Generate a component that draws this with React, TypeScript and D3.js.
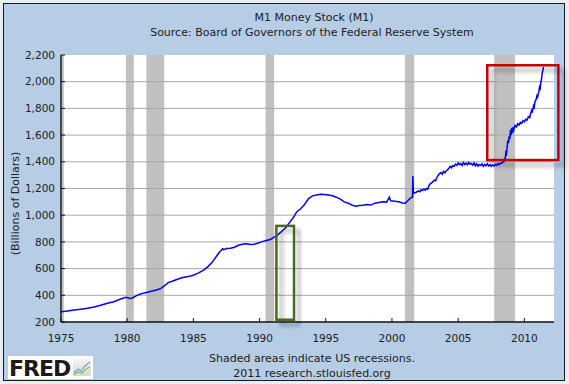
import React from "react";
import * as d3 from "d3";

// M1 money stock, billions of dollars
const m1Series: [number, number][] = [
  [1975.0, 276], [1975.5, 283], [1976.0, 290], [1976.5, 296], [1977.0, 303],
  [1977.5, 313], [1978.0, 326], [1978.5, 340], [1979.0, 352], [1979.5, 372],
  [1979.9, 386], [1980.2, 376], [1980.4, 380], [1980.7, 398], [1981.0, 410],
  [1981.3, 418], [1981.6, 425], [1981.9, 432], [1982.2, 440], [1982.5, 449],
  [1982.8, 470], [1983.1, 495], [1983.4, 505], [1983.8, 520], [1984.2, 533],
  [1984.6, 540], [1985.0, 550], [1985.4, 568], [1985.8, 590], [1986.1, 615],
  [1986.4, 645], [1986.8, 700], [1987.0, 728], [1987.1, 735], [1987.2, 748],
  [1987.3, 742], [1987.5, 750], [1987.8, 752], [1988.1, 760], [1988.4, 775],
  [1988.7, 782], [1989.0, 786], [1989.3, 780], [1989.6, 783], [1989.9, 792],
  [1990.2, 802], [1990.5, 810], [1990.8, 818], [1991.1, 835], [1991.4, 855],
  [1991.7, 882], [1992.0, 910], [1992.3, 950], [1992.6, 990], [1992.8, 1024],
  [1993.1, 1048], [1993.4, 1080], [1993.7, 1125], [1994.0, 1145], [1994.3, 1152],
  [1994.6, 1157], [1994.9, 1155], [1995.2, 1152], [1995.5, 1145], [1995.8, 1135],
  [1996.1, 1120], [1996.4, 1100], [1996.7, 1090], [1997.0, 1075], [1997.3, 1068],
  [1997.5, 1072], [1997.8, 1074], [1998.1, 1080], [1998.4, 1076], [1998.7, 1090],
  [1999.0, 1095], [1999.3, 1100], [1999.6, 1098], [1999.8, 1135], [1999.9, 1108],
  [2000.2, 1105], [2000.5, 1100], [2000.8, 1092], [2001.0, 1090], [2001.2, 1110],
  [2001.4, 1128], [2001.55, 1135], [2001.58, 1293], [2001.62, 1165], [2001.8, 1170],
  [2002.0, 1182], [2002.1, 1176], [2002.2, 1190], [2002.3, 1184], [2002.4, 1196],
  [2002.5, 1188], [2002.6, 1200], [2002.7, 1194], [2002.8, 1224], [2002.9, 1236],
  [2003.0, 1242], [2003.1, 1252], [2003.2, 1262], [2003.3, 1258], [2003.4, 1284],
  [2003.5, 1300], [2003.6, 1312], [2003.7, 1320], [2003.8, 1306], [2003.9, 1328],
  [2004.0, 1318], [2004.1, 1332], [2004.2, 1340], [2004.3, 1352], [2004.4, 1365],
  [2004.5, 1355], [2004.6, 1372], [2004.7, 1366], [2004.8, 1382], [2004.9, 1374],
  [2005.0, 1392], [2005.1, 1378], [2005.2, 1386], [2005.3, 1372], [2005.4, 1394],
  [2005.5, 1380], [2005.6, 1390], [2005.7, 1377], [2005.8, 1395], [2005.9, 1382],
  [2006.0, 1388], [2006.1, 1375], [2006.2, 1392], [2006.3, 1370], [2006.4, 1386],
  [2006.5, 1368], [2006.6, 1380], [2006.7, 1372], [2006.8, 1384], [2006.9, 1366],
  [2007.0, 1380], [2007.1, 1370], [2007.2, 1386], [2007.3, 1368], [2007.4, 1378],
  [2007.5, 1366], [2007.6, 1376], [2007.7, 1368], [2007.8, 1380], [2007.9, 1372],
  [2008.0, 1386], [2008.1, 1378], [2008.2, 1392], [2008.3, 1388], [2008.4, 1404],
  [2008.45, 1400], [2008.5, 1420], [2008.55, 1415], [2008.6, 1470], [2008.65, 1460],
  [2008.7, 1510], [2008.75, 1560], [2008.8, 1540], [2008.85, 1590], [2008.9, 1570],
  [2008.95, 1640], [2009.0, 1600], [2009.05, 1655], [2009.1, 1615], [2009.15, 1660],
  [2009.2, 1640], [2009.3, 1672], [2009.4, 1662], [2009.5, 1686], [2009.6, 1676],
  [2009.7, 1695], [2009.8, 1688], [2009.9, 1708], [2010.0, 1700], [2010.1, 1718],
  [2010.2, 1712], [2010.3, 1738], [2010.4, 1730], [2010.5, 1770], [2010.55, 1785],
  [2010.6, 1776], [2010.7, 1820], [2010.75, 1810], [2010.8, 1850], [2010.9, 1870],
  [2010.95, 1895], [2011.0, 1885], [2011.1, 1930], [2011.15, 1960], [2011.2, 1950],
  [2011.25, 2000], [2011.3, 2020], [2011.35, 2065], [2011.4, 2085], [2011.45, 2110],
];

// US recessions (start, end) in decimal years
const recessions: [number, number][] = [
  [1979.9, 1980.5],
  [1981.45, 1982.8],
  [1990.45, 1991.1],
  [2000.98, 2001.68],
  [2007.72, 2009.3],
];

const yearTicks = [1975, 1980, 1985, 1990, 1995, 2000, 2005, 2010];
const valueTicks = [200, 400, 600, 800, 1000, 1200, 1400, 1600, 1800, 2000, 2200];

// highlight boxes: [x0, x1, y0, y1] in data units
const greenBox = [1991.27, 1992.6, 217, 920];
const redBox = [2007.2, 2012.57, 1413, 2123];

const W = 569;
const H = 384;
const plot = { left: 61, right: 554, top: 55, bottom: 322 };
const font = "'DejaVu Sans', Verdana, sans-serif";

export default function App() {
  const x = d3.scaleLinear().domain([1975, 2012.24]).range([plot.left, plot.right]);
  const y = d3.scaleLinear().domain([200, 2200]).range([plot.bottom, plot.top]);
  const line = d3
    .line<[number, number]>()
    .x((d) => x(d[0]))
    .y((d) => y(d[1]));
  const fmt = d3.format(",");

  const box = (b: number[], color: string) => (
    <rect
      x={x(b[0])}
      y={y(b[3])}
      width={x(b[1]) - x(b[0])}
      height={y(b[2]) - y(b[3])}
      fill="none"
      stroke={color}
      strokeWidth={2.5}
      filter="url(#shadow)"
    />
  );

  return (
    <svg
      width={W}
      height={H}
      style={{ position: "absolute", left: 0, top: 0 }}
      fontFamily={font}
    >
      <defs>
        <filter id="shadow" x="-20%" y="-20%" width="160%" height="160%">
          <feDropShadow dx={5} dy={5} stdDeviation={2} floodColor="#000" floodOpacity={0.35} />
        </filter>
        <clipPath id="plotClip">
          <rect x={plot.left} y={plot.top} width={plot.right - plot.left} height={plot.bottom - plot.top} />
        </clipPath>
        <linearGradient id="iconBg" x1="0" y1="0" x2="0" y2="1">
          <stop offset="0" stopColor="#f4f4f4" />
          <stop offset="1" stopColor="#d8d8d8" />
        </linearGradient>
      </defs>

      <rect width={W} height={H} fill="#e9eef4" />
      <rect x={3.5} y={3.5} width={561} height={377} fill="#b6cde5" stroke="#1a1a1a" strokeWidth={1} />

      {/* titles */}
      <text x={314} y={21} textAnchor="middle" fontSize={11} fill="#222">
        M1 Money Stock (M1)
      </text>
      <text x={312} y={36} textAnchor="middle" fontSize={11} fill="#222">
        Source: Board of Governors of the Federal Reserve System
      </text>

      {/* plot area */}
      <rect x={plot.left} y={plot.top} width={plot.right - plot.left} height={plot.bottom - plot.top} fill="#fff" />
      <rect x={plot.left + 1} y={plot.top} width={2} height={plot.bottom - plot.top} fill="#c8c8c8" />

      {recessions.map(([a, b], i) => (
        <rect key={i} x={x(a)} y={plot.top} width={x(b) - x(a)} height={plot.bottom - plot.top} fill="#c0c0c0" />
      ))}

      {valueTicks.slice(1, -1).map((v) => (
        <line key={v} x1={plot.left} x2={plot.right} y1={y(v)} y2={y(v)} stroke="#a8a8a8" strokeWidth={1} />
      ))}

      <path
        d={line(m1Series) || ""}
        fill="none"
        stroke="#0000ff"
        strokeWidth={1.5}
        clipPath="url(#plotClip)"
      />

      {/* axes */}
      <line x1={plot.left} x2={plot.left} y1={plot.top} y2={plot.bottom} stroke="#111" strokeWidth={1.5} />
      <line x1={plot.left} x2={plot.right} y1={plot.bottom} y2={plot.bottom} stroke="#111" strokeWidth={1.5} />
      {valueTicks.map((v) => (
        <g key={v}>
          <line x1={plot.left} x2={plot.left + 4} y1={y(v)} y2={y(v)} stroke="#111" />
          <text x={plot.left - 6} y={y(v)} dy="0.35em" textAnchor="end" fontSize={10.5} fill="#222">
            {fmt(v)}
          </text>
        </g>
      ))}
      {yearTicks.map((t) => (
        <g key={t}>
          <line x1={x(t)} x2={x(t)} y1={plot.bottom} y2={plot.bottom - 4} stroke="#111" />
          <text x={x(t)} y={342} textAnchor="middle" fontSize={10.5} fill="#222">
            {t}
          </text>
        </g>
      ))}
      <text
        transform={`translate(19,${(plot.top + plot.bottom) / 2 + 15}) rotate(-90)`}
        textAnchor="middle"
        fontSize={11}
        fill="#222"
      >
        (Billions of Dollars)
      </text>

      {/* highlight boxes */}
      {box(greenBox, "#476b1c")}
      {box(redBox, "#c40000")}

      {/* footer */}
      <text x={312} y={362} textAnchor="middle" fontSize={11} fill="#222">
        Shaded areas indicate US recessions.
      </text>
      <text x={312} y={377} textAnchor="middle" fontSize={11} fill="#222">
        2011 research.stlouisfed.org
      </text>

      {/* FRED logo */}
      <rect x={8} y={356} width={85} height={23} fill="#fff" />
      <text x={9} y={376} fontSize={22} fontWeight="bold" fill="#1a1a1a" letterSpacing={-1} fontFamily="'DejaVu Sans', sans-serif">
        FRED
      </text>
      <rect x={73} y={359} width={18} height={17} fill="url(#iconBg)" />
      <path d="M74,373 L78,369 L81,371 L85,366 L90,362" fill="none" stroke="#6fa0d8" strokeWidth={1.2} />
      <path d="M74,375 L78,372 L82,373 L86,369 L90,367" fill="none" stroke="#8cbf4a" strokeWidth={1.2} />
    </svg>
  );
}
